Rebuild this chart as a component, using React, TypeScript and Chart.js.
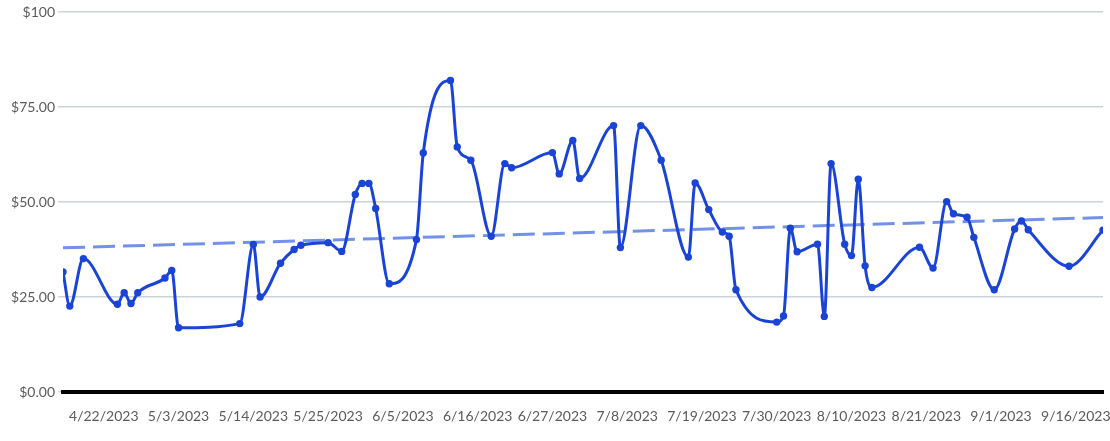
import React, { useEffect, useRef } from 'react';
import { Chart, registerables } from 'chart.js';

Chart.register(...registerables);

// prices, one per trading day (2023)
const dates = [
  '4/16', '4/17', '4/19', '4/24', '4/25', '4/26', '4/27', '5/1', '5/2', '5/3',
  '5/12', '5/14', '5/15', '5/18', '5/20', '5/21', '5/25', '5/27', '5/29', '5/30',
  '5/31', '6/1', '6/3', '6/7', '6/8', '6/12', '6/13', '6/15', '6/18', '6/20',
  '6/21', '6/27', '6/28', '6/30', '7/1', '7/6', '7/7', '7/10', '7/13', '7/17',
  '7/18', '7/20', '7/22', '7/23', '7/24', '7/30', '7/31', '8/1', '8/2', '8/5',
  '8/6', '8/7', '8/9', '8/10', '8/11', '8/12', '8/13', '8/20', '8/22', '8/24',
  '8/25', '8/27', '8/28', '8/31', '9/3', '9/4', '9/5', '9/11', '9/16',
];
const prices = [
  31.6, 22.6, 35.1, 23.1, 26.1, 23.3, 26.1, 30.0, 32.0, 16.9,
  18.0, 38.8, 25.0, 33.9, 37.5, 38.6, 39.3, 37.0, 52.0, 54.9,
  54.9, 48.3, 28.5, 40.1, 62.9, 82.0, 64.5, 61.0, 41.0, 60.1,
  59.0, 63.0, 57.4, 66.2, 56.2, 70.1, 38.0, 70.1, 61.0, 35.5,
  55.0, 48.0, 42.1, 41.0, 26.9, 18.4, 20.0, 43.1, 36.9, 38.9,
  19.9, 60.1, 38.9, 35.9, 56.0, 33.2, 27.5, 38.1, 32.6, 50.1,
  46.9, 46.0, 40.7, 26.9, 42.9, 45.0, 42.7, 33.1, 42.6,
];

const xTickLabels = [
  '4/22/2023', '5/3/2023', '5/14/2023', '5/25/2023', '6/5/2023', '6/16/2023', '6/27/2023',
  '7/8/2023', '7/19/2023', '7/30/2023', '8/10/2023', '8/21/2023', '9/1/2023', '9/16/2023',
];
const xTickStepDays = 11;
const yTickValues = [0, 25, 50, 75, 100];
const yTickLabels = ['$0.00', '$25.00', '$50.00', '$75.00', '$100'];

const toDay = (s: string) => {
  const [m, d] = s.split('/').map(Number);
  return Date.UTC(2023, m - 1, d) / 86400000;
};

const App: React.FC = () => {
  const canvasRef = useRef<HTMLCanvasElement>(null);
  const chartRef = useRef<Chart | null>(null);

  useEffect(() => {
    document.body.style.margin = '0';
    if (!canvasRef.current) return;
    if (chartRef.current) chartRef.current.destroy();

    const points = dates.map((d, i) => ({ x: toDay(d), y: prices[i] }));
    const xs = points.map(p => p.x);
    const minX = Math.min(...xs);
    const maxX = Math.max(...xs);

    // least squares trend line
    const n = points.length;
    const mx = xs.reduce((a, b) => a + b, 0) / n;
    const my = prices.reduce((a, b) => a + b, 0) / n;
    let sxy = 0;
    let sxx = 0;
    points.forEach(p => {
      sxy += (p.x - mx) * (p.y - my);
      sxx += (p.x - mx) * (p.x - mx);
    });
    const slope = sxy / sxx;
    const trend = [minX, maxX].map(x => ({ x, y: my + slope * (x - mx) }));

    const firstTick = toDay(xTickLabels[0]);
    const font = { family: 'Lato', size: 14 };

    chartRef.current = new Chart(canvasRef.current, {
      type: 'line',
      data: {
        datasets: [
          {
            data: points,
            borderColor: '#1a44d6',
            backgroundColor: '#1a44d6',
            borderWidth: 3,
            pointRadius: 3.7,
            pointBorderWidth: 0,
            pointBackgroundColor: '#1a44d6',
            cubicInterpolationMode: 'monotone',
            order: 1,
          },
          {
            data: trend,
            borderColor: '#7391e8',
            borderWidth: 3,
            borderDash: [22, 8],
            pointRadius: 0,
            tension: 0,
            order: 2,
          },
        ],
      },
      options: {
        responsive: true,
        maintainAspectRatio: false,
        animation: false,
        layout: { padding: { top: 12, right: 7, left: 0, bottom: 0 } },
        plugins: {
          legend: { display: false },
          tooltip: { enabled: false },
        },
        scales: {
          x: {
            type: 'linear',
            min: minX,
            max: maxX,
            grid: { display: false, drawTicks: false },
            border: { display: true, color: '#000', width: 4 },
            afterBuildTicks: (scale: any) => {
              scale.ticks = xTickLabels.map((_, i) => ({ value: firstTick + i * xTickStepDays }));
            },
            afterFit: (scale: any) => {
              scale.height = 49;
              scale.paddingLeft = 0;
              scale.paddingRight = 0;
            },
            ticks: {
              autoSkip: false,
              maxRotation: 0,
              padding: 16,
              color: '#5a5a5a',
              font,
              callback: (_v: any, i: number) => xTickLabels[i],
            },
          },
          y: {
            min: 0,
            max: 100,
            border: { display: false },
            grid: {
              color: '#ccd3db',
              lineWidth: 1.5,
              tickLength: 5,
              drawTicks: true,
            },
            afterBuildTicks: (scale: any) => {
              scale.ticks = yTickValues.map(value => ({ value }));
            },
            afterFit: (scale: any) => {
              scale.width = 63;
              scale.paddingTop = 0;
              scale.paddingBottom = 0;
            },
            ticks: {
              padding: 3,
              color: '#5a5a5a',
              font,
              callback: (_v: any, i: number) => yTickLabels[i],
            },
          },
        },
      },
    });

    return () => {
      if (chartRef.current) {
        chartRef.current.destroy();
        chartRef.current = null;
      }
    };
  }, []);

  return (
    <div style={{ position: 'relative', width: 1110, height: 441 }}>
      <canvas ref={canvasRef} />
    </div>
  );
};

export default App;
